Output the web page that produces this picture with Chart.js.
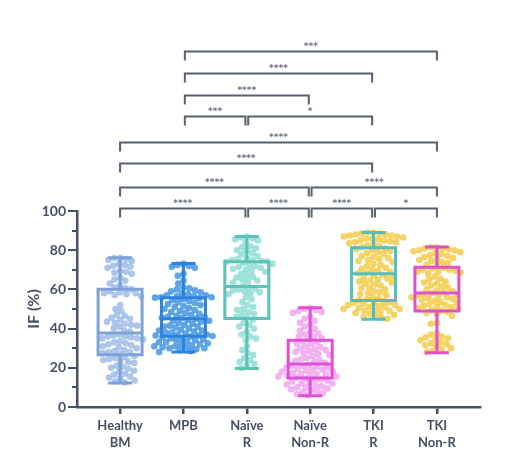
<!DOCTYPE html>
<html>
<head>
<meta charset="utf-8">
<script src="https://cdn.jsdelivr.net/npm/chart.js@4.4.1/dist/chart.umd.min.js"></script>
<style>
  html, body { margin: 0; padding: 0; background: #ffffff; }
  #wrap { width: 510px; height: 451px; position: relative; }
</style>
</head>
<body>
<div id="wrap"><canvas id="c" width="510" height="451"></canvas></div>
<script>
// ---------------- DATA ----------------
const categories = [["Healthy", "BM"], ["MPB"], ["Naïve", "R"], ["Naïve", "Non-R"], ["TKI", "R"], ["TKI", "Non-R"]];

const healthyBM = [76,76,75.5,75,74.5,73,72.5,72,71.5,71,69.5,69,68.5,68,66,65,64.5,63,62,61,60.5,60,
  59,58.5,58,58,57.5,57,56.5,52,50,49,47,46.5,45.5,45,44.5,43.5,43,42.5,42,41.5,41,40,39,38.5,
  37,36.5,36,36,35.5,35,35,34.5,33.5,33,32.5,32,31.5,31,30.5,30,29,28.5,28,28,27.5,27,
  26,25.5,25,24.5,24,23.5,23,22.5,21,20.5,20,19.5,18.5,18,17,16.5,15.5,15,14.5,13.5,13,12.5];
const mpb = [73,72.5,72,71.5,71,68,67,64.5,63,61,60.5,60,59.5,59,58.5,58,57.5,57,57,56.5,56.5,56,56,55.8,
  55.5,55,54.5,54,53.5,53,52.5,52,51.5,51,50.5,50,49.5,49,48.5,48,47.5,47,46.5,46,46,45.5,45.5,45,
  44.5,44,44,43.5,43,42.5,42,41.5,41,41,40.5,40,39.5,39,39,38.5,38,38,37.5,37,37,36.5,36.5,36.2,
  36,35.5,35,35,34.5,34,34,33.5,33,33,32.5,32,32,31.5,31,31,30.5,30.5,30,30,29.5,29,28.5,28];
const naiveR = [87,86.5,86,85.5,85,84,82,81.5,81,80,79.5,78.5,78,77,76,75.5,75,75,74.5,74.2,
  74,73.5,73,72.5,72,71.5,71,70.5,70,69.5,69,68,67,66.5,66,65,64.5,64,63.5,62,
  61,60.5,60,59.5,59,58.5,58,57.5,56,55,53.5,52,51,50,49.5,48.5,47.5,47,46,45.5,
  44.5,43,42,41,40,38.5,37,36,35,34,31,29,27.5,26.5,25,24,23,22,21,19.8];
const naiveNonR = [50.5,50,49.5,49,48.5,48,46,45,44,43,42,41,40,39,38,37.5,37,36,35.5,35,34.5,
  33.5,33,32.5,32,31,30.5,30,29.5,29,28.5,28,27.5,27,26.5,26,25,24.5,24,23.5,23,22.5,
  21.5,21,21,20.5,20,20,19.5,19,19,18.5,18,18,17.5,17,17,16.5,16,16,15.5,15.5,15,
  14.5,14,14,13.5,13,12.5,12,12,11.5,11,10.5,10,10,9.5,9,8.5,8,7.5,7,6.5,6];
const tkiR = [89,89,88.5,88.5,88,88,87.5,87.5,87,87,86.5,86,86,85.5,85,85,84.5,84,84,83.5,83,82.5,82,81.5,
  81,80.5,80,79.5,79,78.5,78,77,76.5,76,75.5,75,74.5,74,73,72.5,72,71,70.5,70,69.5,69,68.5,68.2,
  67.5,67,66.5,66,65.5,65,64.5,64,63.5,63,62.5,62,61,60.5,60,59,58.5,58,57.5,57,56,55.5,55,54.5,
  54,53.5,53,53,52.5,52,52,51.5,51,51,50.5,50,50,49.5,49,49,48.5,48,47.5,47,46.5,46,45.5,45];
const tkiNonR = [81.5,81.5,81,81,80.5,80,80,79.5,79,78.5,78,77.5,77,76.5,76,75.5,75,74.5,74,73.5,72.5,72,
  71,70.5,70,70,69.5,69,69,68.5,68,66.5,65.5,65,64,63.5,63,62,61.5,61,60,59.5,59,58.5,
  58,57.5,57,57,56.5,56,56,55.5,55,54.5,54,53.5,53,52.5,52,51.5,51,51,50.5,50,49.5,49.2,
  48.5,48,47.5,46.5,43,42.5,37.5,37,36,35.5,35,34.5,34,33,32.5,32,31.5,31,30,29.5,28.5,28];
const groups = [healthyBM, mpb, naiveR, naiveNonR, tkiR, tkiNonR];

// box statistics: whisker low, Q1, median, Q3, whisker high
const whiskerLow  = [12.2, 28.0, 19.7,  5.7, 44.8, 27.7];
const quartile1   = [26.6, 36.1, 45.2, 14.8, 54.3, 49.0];
const medians     = [37.8, 45.0, 61.5, 22.0, 68.0, 58.1];
const quartile3   = [60.1, 55.8, 74.1, 34.0, 81.3, 71.3];
const whiskerHigh = [76.1, 73.2, 87.0, 50.7, 89.0, 81.6];

const yTickValues = [0, 10, 20, 30, 40, 50, 60, 70, 80, 90, 100];

// significance brackets: [from group, to group, level (IF %), label]
const bracketFrom  = [2, 2, 2, 2, 3, 1, 1, 1, 4, 1, 3, 4, 5];
const bracketTo    = [6, 5, 4, 3, 5, 6, 5, 4, 6, 3, 4, 5, 6];
const bracketLevel = [181.5, 170.5, 159.3, 148.4, 148.4, 135.4, 124.3, 112.3, 112.3, 101.5, 101.5, 101.5, 101.5];
const bracketLabel = ["***", "****", "****", "***", "*", "****", "****", "****", "****", "****", "****", "****", "*"];

// ---------------- STYLE ----------------
const boxColors   = ["#7ea1d6", "#2a84dc", "#5cc3b6", "#e04fd8", "#52bfc2", "#e24fc9"];
const pointColors = ["rgba(140,176,228,0.72)", "rgba(50,140,224,0.78)", "rgba(112,212,202,0.66)",
                     "rgba(236,140,232,0.66)", "rgba(244,200,62,0.8)", "rgba(244,200,62,0.8)"];
const axisColor = "#465062";
const BOX_HALF = 0.347, CAP_HALF = 0.19;

// ---------------- DATASETS ----------------
const datasets = [];
groups.forEach((vals, i) => {
  datasets.push({
    type: 'scatter',
    label: 'pts' + i,
    data: vals.map(v => ({ x: i + 1, y: v })),
    pointRadius: 3.3,
    pointHoverRadius: 3.3,
    pointBackgroundColor: pointColors[i],
    pointBorderWidth: 0,
    order: 2
  });
});
groups.forEach((vals, i) => {
  const x = i + 1, w = BOX_HALF, c = CAP_HALF;
  const lo = whiskerLow[i], q1 = quartile1[i], md = medians[i], q3 = quartile3[i], hi = whiskerHigh[i];
  const G = { x: x, y: null };
  const pts = [
    { x: x, y: q1 }, { x: x + w, y: q1 }, { x: x + w, y: q3 }, { x: x - w, y: q3 }, { x: x - w, y: q1 }, { x: x, y: q1 }, G,
    { x: x - w, y: md }, { x: x + w, y: md }, G,
    { x: x, y: q3 }, { x: x, y: hi }, G,
    { x: x - c, y: hi }, { x: x + c, y: hi }, G,
    { x: x, y: q1 }, { x: x, y: lo }, G,
    { x: x - c, y: lo }, { x: x + c, y: lo }
  ];
  datasets.push({
    type: 'scatter',
    label: 'box' + i,
    data: pts,
    showLine: true,
    spanGaps: false,
    borderColor: boxColors[i],
    borderWidth: 3,
    borderCapStyle: 'butt',
    borderJoinStyle: 'miter',
    tension: 0,
    pointRadius: 0,
    pointHoverRadius: 0,
    order: 1
  });
});

// ---------------- PLUGINS ----------------
const extrasPlugin = {
  id: 'extras',
  afterDraw(chart) {
    const ctx = chart.ctx, xs = chart.scales.x, ys = chart.scales.y;
    ctx.save();
    // minor y ticks
    ctx.strokeStyle = axisColor;
    ctx.lineWidth = 2;
    yTickValues.forEach(v => {
      if (v % 20 !== 0) {
        const py = Math.round(ys.getPixelForValue(v));
        ctx.beginPath();
        ctx.moveTo(xs.left - 5, py);
        ctx.lineTo(xs.left, py);
        ctx.stroke();
      }
    });
    // brackets
    ctx.strokeStyle = "#58606e";
    ctx.lineWidth = 2;
    ctx.fillStyle = "#6a717e";
    ctx.font = "bold 9px 'DejaVu Sans'";
    ctx.textAlign = 'center';
    ctx.textBaseline = 'alphabetic';
    const inset = 0.022;
    bracketFrom.forEach((a, k) => {
      const b = bracketTo[k];
      const x1 = xs.getPixelForValue(a + (a === 1 ? 0 : inset));
      const x2 = xs.getPixelForValue(b - (b === 6 ? 0 : inset));
      const py = Math.round(ys.getPixelForValue(bracketLevel[k])) + 0.5;
      ctx.beginPath();
      ctx.moveTo(x1, py + 9);
      ctx.lineTo(x1, py);
      ctx.lineTo(x2, py);
      ctx.lineTo(x2, py + 9);
      ctx.stroke();
      ctx.fillText(bracketLabel[k], (x1 + x2) / 2, py - 3);
    });
    ctx.restore();
  }
};

// ---------------- CHART ----------------
const chart = new Chart(document.getElementById('c'), {
  type: 'scatter',
  data: { datasets: datasets },
  options: {
    responsive: false,
    animation: false,
    events: [],
    layout: { padding: { top: 211, right: 30, left: 0, bottom: 0 } },
    plugins: { legend: { display: false }, tooltip: { enabled: false } },
    scales: {
      x: {
        type: 'linear',
        min: 0.32,
        max: 6.68,
        afterBuildTicks: s => { s.ticks = categories.map((c, i) => ({ value: i + 1 })); },
        afterFit: s => { s.height = 44; },
        ticks: {
          autoSkip: false,
          maxRotation: 0,
          padding: 4,
          color: axisColor,
          font: { family: 'Lato', size: 13, weight: 'bold', lineHeight: 1.25 },
          callback: (v) => categories[Math.round(v) - 1] || ''
        },
        grid: { drawOnChartArea: false, tickLength: 7, color: axisColor, lineWidth: 2.5 },
        border: { color: axisColor, width: 2.5 }
      },
      y: {
        min: 0,
        max: 100,
        afterBuildTicks: s => { s.ticks = yTickValues.map(v => ({ value: v })); },
        afterFit: s => { s.width = 77; },
        ticks: {
          autoSkip: false,
          padding: 2,
          color: axisColor,
          font: { family: 'Lato', size: 14, weight: 'bold' },
          callback: v => (v % 20 === 0 ? String(v) : '')
        },
        grid: {
          drawOnChartArea: false,
          tickLength: 9,
          lineWidth: 2,
          tickWidth: 2,
          tickColor: ctx => (ctx.tick && ctx.tick.value % 20 === 0 ? axisColor : 'rgba(0,0,0,0)'),
          color: axisColor
        },
        border: { color: axisColor, width: 2.5 },
        title: {
          display: true,
          text: 'IF (%)',
          color: axisColor,
          font: { family: 'Lato', size: 16, weight: 'bold' },
          padding: { top: 24, bottom: 0 }
        }
      }
    }
  },
  plugins: [extrasPlugin]
});

// ---------------- SWARM LAYOUT (horizontal spreading of dots) ----------------
function swarmOffsets(values) {
  const ys = chart.scales.y;
  const D = 6.0;
  const placed = [];
  const out = new Array(values.length).fill(0);
  const order = values.map((v, i) => i).sort((a, b) => values[b] - values[a]);
  order.forEach(i => {
    const py = ys.getPixelForValue(values[i]);
    const near = placed.filter(p => Math.abs(p.y - py) < D);
    const cands = [0];
    near.forEach(p => {
      const dx = Math.sqrt(D * D - (p.y - py) * (p.y - py));
      cands.push(p.x + dx, p.x - dx);
    });
    cands.sort((a, b) => Math.abs(a) - Math.abs(b) || a - b);
    let chosen = 0;
    for (const c of cands) {
      if (near.every(p => (p.x - c) * (p.x - c) + (p.y - py) * (p.y - py) >= D * D - 0.01)) { chosen = c; break; }
    }
    placed.push({ x: chosen, y: py });
    out[i] = chosen;
  });
  return out;
}
const xsc = chart.scales.x;
groups.forEach((vals, i) => {
  const offs = swarmOffsets(vals);
  const cx = xsc.getPixelForValue(i + 1);
  chart.data.datasets[i].data = vals.map((v, k) => ({ x: xsc.getValueForPixel(cx + offs[k]), y: v }));
});
chart.update('none');
</script>
</body>
</html>
